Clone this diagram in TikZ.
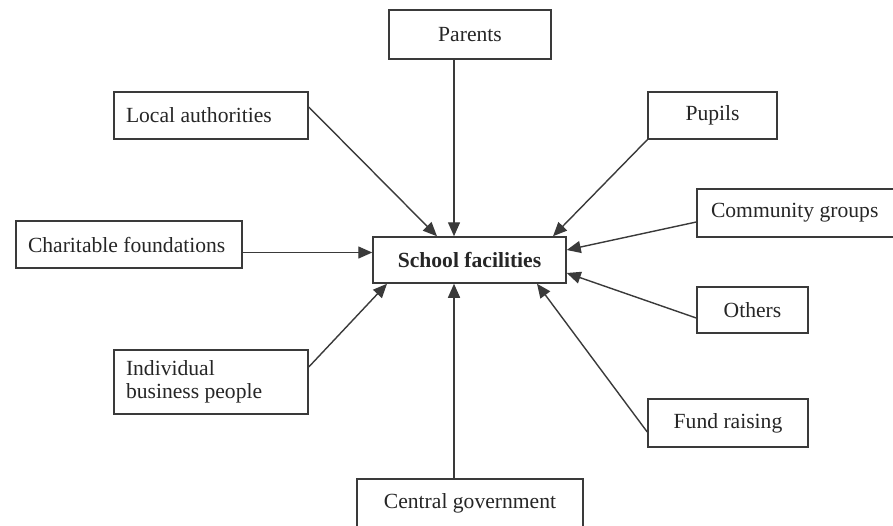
\documentclass[tikz,border=0pt]{standalone}
\usepackage{fontspec}
\setmainfont{Liberation Serif}
\usepackage{xcolor}
\usetikzlibrary{positioning,arrows.meta}

\definecolor{inkgray}{HTML}{3A3A3A}

\begin{document}
\begin{tikzpicture}[x=0.5pt, y=-0.5pt,
  every node/.style={font=\fontsize{10.8}{11.6}\selectfont, text=black!85},
  box/.style={draw=inkgray, line width=0.75pt, rectangle, inner sep=0pt},
  leftbox/.style={box, align=left, inner xsep=6pt,
    execute at begin node={\spaceskip=0pt\xspaceskip=0pt\relax}},
  arr/.style={draw=inkgray, line width=0.7pt, -{Triangle[length=7pt,width=6pt]}}]
\useasboundingbox (0,0) rectangle (893,525);
\clip (0,0) rectangle (893,525);
\fill[white] (0,0) rectangle (893,525);

% the hub
\node[box, minimum width=96.5pt, minimum height=23pt, font=\fontsize{10.8}{11.6}\bfseries] (school) at (469.5,260) {School facilities};

% sources round it
\node[box, minimum width=81pt, minimum height=24.5pt] (parents) at (470,34.5) {Parents};
\node[leftbox, text width=85pt, minimum height=23.5pt] (local) at (211,115.5) {Local authorities};
\node[box, minimum width=64.5pt, minimum height=23.5pt] (pupils) at (712.5,115.5) {Pupils};
\node[leftbox, inner xsep=7pt, text width=90pt, minimum height=24pt] (community) at (801,213) {Community groups};
\node[leftbox, text width=101pt, minimum height=23.5pt] (charitable) at (129,244.5) {Charitable foundations};
\node[box, minimum width=55.5pt, minimum height=23pt] (others) at (752.5,310) {Others};
\node[leftbox, text width=85pt, minimum height=32pt] (individual) at (211,382) {Individual\\business people};
\node[box, minimum width=80pt, minimum height=24pt] (fund) at (728,423) {Fund raising};
\node[box, minimum width=113pt, minimum height=24pt] (central) at (470,503) {Central government};

% arrows into the hub
\draw[arr] ([xshift=-8pt]parents.south) -- ([xshift=-8pt]parents.south |- school.north);
\draw[arr] ([yshift=4.25pt]local.east) -- ([xshift=-16.25pt]school.north);
\draw[arr] (pupils.south west) -- ([xshift=41.75pt]school.north);
\draw[arr] ([yshift=-4.5pt]community.west) -- ([yshift=5pt]school.east);
\draw[arr] ([yshift=-4pt]charitable.east) -- ([yshift=-4pt]charitable.east -| school.west);
\draw[arr] ([yshift=-4pt]others.west) -- ([yshift=-6.5pt]school.east);
\draw[arr] ([yshift=-4.5pt]fund.west) -- ([xshift=33.75pt]school.south);
\draw[arr] ([xshift=-8pt]central.north) -- ([xshift=-8pt]central.north |- school.south);
\draw[arr] ([yshift=7.5pt]individual.east) -- ([xshift=-41.25pt]school.south);
\end{tikzpicture}
\end{document}
